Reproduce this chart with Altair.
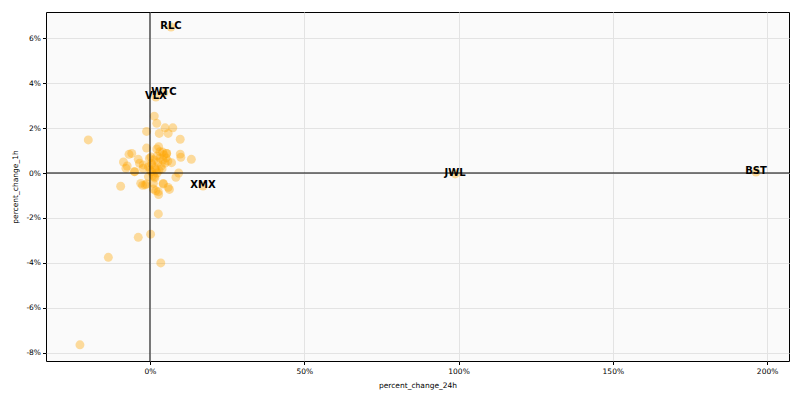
import altair as alt
import pandas as pd

# unlabeled coins: percent_change_24h, percent_change_1h
change_24h = [-20.0, -22.7, -13.5, -3.8, 0.2, 3.5, 2.7, -9.5, 1.4, 2.2, -1.1, 3.0, 4.9, 7.4,
              5.9, 9.8, -1.1, 2.2, 2.8, 4.1, 5.4, 9.8, 10.0, 13.4, 7.0, 9.3, 8.4, 6.3, 5.9,
              4.3, 2.8, 1.9, 1.1, -1.1, -2.4, -3.0, -5.9, -6.8, -8.6, -7.8, -5.1, -3.8, -3.4,
              -2.2, -0.2, 0.5, -0.5, -0.5, 1.4, 0.5, -7.4, -4.9, -2.2, -1.6, 1.1, 4.3, 2.7,
              0.65, 1.3, 1.6, 2.3, 2.6, 3.2, 3.6, 4.2, 4.5, 4.9, 5.2, 5.8, 1.9, 2.9, 3.9,
              1.0, 1.6, 2.3, 0.3, 0.0, 3.2, 5.4]
change_1h = [1.47, -7.64, -3.75, -2.86, -2.72, -4.0, -1.82, -0.59, 2.53, 2.21, 1.85, 1.76, 2.01,
             2.01, 1.76, 1.5, 1.11, 1.07, 1.17, 0.93, 0.87, 0.84, 0.70, 0.61, 0.46, 0.0, -0.19,
             -0.73, -0.64, -0.49, -0.96, -0.79, -0.71, -0.49, -0.55, -0.46, 0.87, 0.83, 0.49,
             0.21, 0.06, 0.61, 0.43, 0.21, 0.65, 0.43, 0.28, -0.16, -0.16, 0.06, 0.31, 0.06,
             0.36, -0.53, -0.46, -0.46, -0.83, 0.36, 0.58, 0.22, 0.76, 0.49, 0.67, 0.31, 0.58,
             0.80, 0.44, 0.67, 0.53, 0.13, 0.13, 0.18, -0.09, -0.22, 0.0, 0.71, 0.13, 0.95, 0.87]

# labeled coins
label_names = ["RLC", "WTC", "VLX", "XMX", "JWL", "BST"]
label_24h = [6.8, 4.5, 1.9, 17.2, 98.9, 196.4]
label_1h = [6.49, 3.56, 3.38, -0.58, -0.04, 0.04]

x_ticks = [0, 50, 100, 150, 200]
y_ticks = [-8, -6, -4, -2, 0, 2, 4, 6]

pts = pd.DataFrame({"percent_change_24h": change_24h + label_24h,
                    "percent_change_1h": change_1h + label_1h})
lab = pd.DataFrame({"percent_change_24h": label_24h, "percent_change_1h": label_1h,
                    "name": label_names})

xs = alt.Scale(domain=[-33.7, 207.1], nice=False, zero=False)
ys = alt.Scale(domain=[-8.36, 7.16], nice=False, zero=False)

xenc = alt.X("percent_change_24h:Q", scale=xs, title="percent_change_24h",
             axis=alt.Axis(values=x_ticks, labelExpr="datum.value + '%'"))
yenc = alt.Y("percent_change_1h:Q", scale=ys, title="percent_change_1h",
             axis=alt.Axis(values=y_ticks, labelExpr="datum.value + '%'"))

zero_v = alt.Chart(pd.DataFrame({"v": [0]})).mark_rule(color="black", strokeWidth=1).encode(
    x=alt.X("v:Q", scale=xs))
zero_h = alt.Chart(pd.DataFrame({"v": [0]})).mark_rule(color="black", strokeWidth=1).encode(
    y=alt.Y("v:Q", scale=ys))

points = alt.Chart(pts).mark_circle(size=80, color="orange", opacity=0.38).encode(x=xenc, y=yenc)

texts = alt.Chart(lab).mark_text(fontWeight="bold", fontSize=10, color="black",
                                 font="DejaVu Sans", dy=-1).encode(
    x=alt.X("percent_change_24h:Q", scale=xs),
    y=alt.Y("percent_change_1h:Q", scale=ys),
    text="name:N")

chart = alt.layer(points, zero_v, zero_h, texts).properties(
    width=743, height=349,
    autosize=alt.AutoSizeParams(type="none"),
    padding={"left": 38, "top": 4, "right": 3, "bottom": 30},
    background="white",
).configure_view(
    fill="#fafafa", stroke="black", strokeWidth=1
).configure_axis(
    domain=False,
    grid=True, gridColor="#e3e3e3", gridWidth=1,
    tickColor="black", tickSize=3.5,
    labelFont="DejaVu Sans", labelFontSize=7.5, labelColor="black",
    titleFont="DejaVu Sans", titleFontSize=7.5, titleFontWeight="normal", titleColor="black",
).configure_axisX(labelPadding=3, titlePadding=6).configure_axisY(labelPadding=2, titlePadding=6)

chart.save("out.html", embed_options={"renderer": "svg", "actions": False})
